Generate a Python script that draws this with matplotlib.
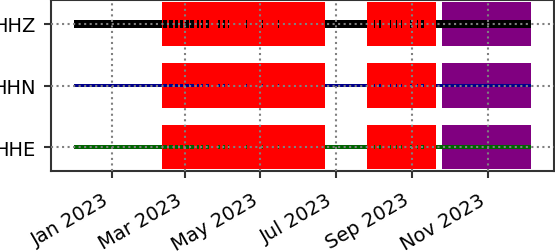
import datetime as dt
import matplotlib
matplotlib.use("Agg")
import matplotlib.pyplot as plt
import matplotlib.dates as mdates

channels = ["HHE", "HHN", "HHZ"]
colors = ["darkgreen", "darkblue", "black"]
bar_heights = [0.065, 0.065, 0.13]

data_start = "2022-12-01"
data_end = "2023-12-06"

# long stretches of data (start, end)
data_runs = [("2022-12-01", "2023-02-10"),
             ("2023-06-22", "2023-07-26"),
             ("2023-09-20", "2023-12-06")]

# short bits of data inside the gap windows (start, days)
data_bits = [("2023-02-11", 3.0), ("2023-02-16", 3.2), ("2023-02-21", 2.2),
             ("2023-02-25", 2.2), ("2023-03-01", 3.0), ("2023-03-05", 3.0),
             ("2023-03-11", 1.5), ("2023-03-14", 1.2), ("2023-03-18", 2.6),
             ("2023-03-28", 1.5), ("2023-04-01", 1.3), ("2023-04-05", 0.7),
             ("2023-04-19", 0.7), ("2023-05-02", 0.7), ("2023-05-15", 0.7),
             ("2023-08-01", 0.7), ("2023-08-05", 1.6), ("2023-08-14", 0.7),
             ("2023-08-19", 0.7), ("2023-08-23", 0.7), ("2023-08-30", 1.8),
             ("2023-09-05", 0.7), ("2023-09-08", 2.2), ("2023-09-18", 0.7)]

gap_windows = [("2023-02-10", "2023-06-22"), ("2023-07-26", "2023-09-20")]
overlap_windows = [("2023-09-25", "2023-12-06")]


def d(s):
    return mdates.date2num(dt.datetime.strptime(s, "%Y-%m-%d"))


fig = plt.figure(figsize=(5.55, 2.53), dpi=100)
ax = fig.add_axes([51 / 555, 1 - 172 / 253, 503 / 555, 171 / 253])

box_h = 0.73
for i, ch in enumerate(channels):
    for a, b in gap_windows:
        ax.broken_barh([(d(a), d(b) - d(a))], (i - box_h / 2, box_h),
                       facecolor="red", edgecolor="none", zorder=1)
    for a, b in overlap_windows:
        ax.broken_barh([(d(a), d(b) - d(a))], (i - box_h / 2, box_h),
                       facecolor="purple", edgecolor="none", zorder=1)
    h = bar_heights[i]
    runs = [(d(a), d(b) - d(a)) for a, b in data_runs]
    runs += [(d(a), w) for a, w in data_bits]
    ax.broken_barh(runs, (i - h / 2, h), facecolor=colors[i],
                   edgecolor="none", zorder=2)

span = d(data_end) - d(data_start)
ax.set_xlim(d(data_start) - 0.05 * span, d(data_end) + 0.05 * span)
ax.set_ylim(-0.39, len(channels) - 1 + 0.39)
ax.set_yticks(range(len(channels)))
ax.set_yticklabels(channels)

ax.xaxis.set_major_locator(mdates.MonthLocator(bymonth=[1, 3, 5, 7, 9, 11]))
ax.xaxis.set_major_formatter(mdates.DateFormatter("%b %Y"))
for lab in ax.get_xticklabels():
    lab.set_rotation(30)
    lab.set_ha("right")

ax.grid(True, color="grey", linestyle=":", linewidth=1.5, zorder=3)
ax.set_axisbelow(False)
ax.tick_params(labelsize=14, length=5, width=1.5, color="#333333")
ax.tick_params(axis="y", pad=6)
ax.tick_params(axis="x", pad=8.5)
for sp in ax.spines.values():
    sp.set_color("#333333")
    sp.set_linewidth(1.5)

fig.savefig("out.png", dpi=100)
